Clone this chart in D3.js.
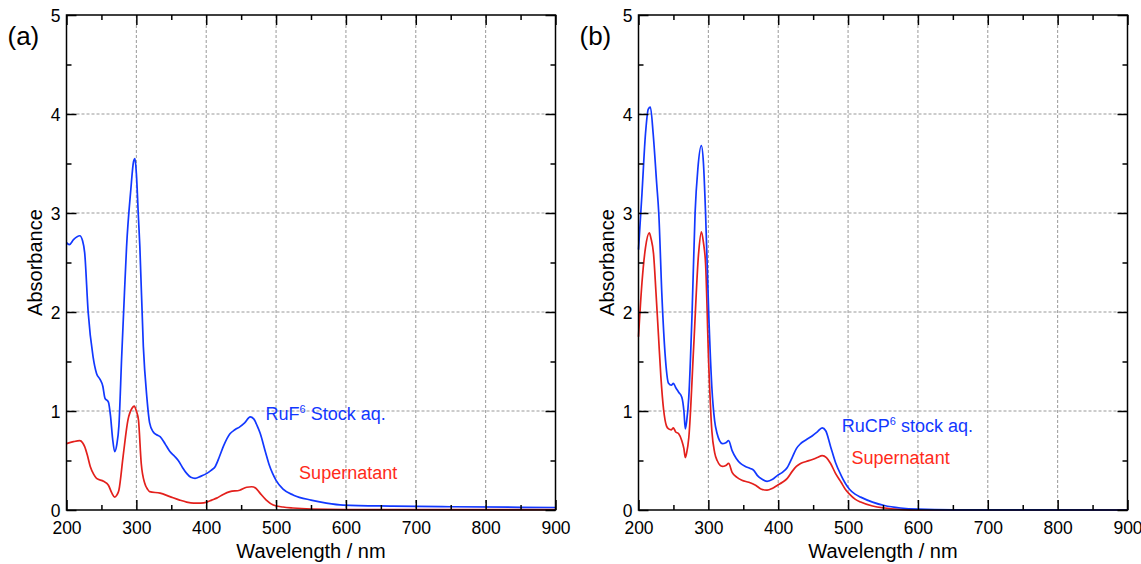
<!DOCTYPE html>
<html>
<head>
<meta charset="utf-8">
<script src="https://cdn.jsdelivr.net/npm/d3@7"></script>
<style>
  body { margin: 0; background: #fff; }
  svg, svg text { font-family: Arial, "Liberation Sans", sans-serif; }
  .grid line { stroke: #999; stroke-dasharray: 3,2; stroke-width: 1; }
  .axis .domain { display: none; }
  .axis line { stroke: #000; stroke-width: 1.5; }
  .axis text { font-size: 17.5px; fill: #000; }
</style>
</head>
<body>
<svg width="1141" height="564"></svg>
<script>
// wavelength (nm), absorbance
const stockA = [[200,2.70],[204,2.68],[210,2.73],[219,2.77],[223,2.72],[226,2.60],[231,2.0],[238,1.55],[243,1.38],[248,1.32],[252,1.25],[255,1.13],[260,1.09],[263,0.95],[266,0.72],[269,0.59],[272,0.66],[275,0.85],[279,1.55],[283,2.2],[286,2.66],[292,3.23],[296,3.52],[298,3.55],[300,3.4],[303,2.95],[305,2.66],[310,1.65],[315,1.14],[319,0.88],[324,0.79],[329,0.76],[334,0.74],[341,0.67],[348,0.59],[355,0.54],[360,0.50],[366,0.43],[372,0.37],[378,0.33],[384,0.32],[392,0.34],[401,0.37],[407,0.40],[413,0.44],[419,0.54],[425,0.65],[434,0.77],[441,0.81],[448,0.84],[455,0.88],[463,0.94],[468,0.92],[473,0.85],[477,0.78],[485,0.58],[490,0.46],[495,0.37],[500,0.30],[510,0.21],[525,0.15],[550,0.10],[572,0.07],[596,0.05],[667,0.04],[750,0.033],[900,0.025]];
const superA = [[200,0.67],[210,0.69],[219,0.70],[223,0.68],[226,0.64],[230,0.55],[234,0.44],[239,0.36],[243,0.32],[253,0.29],[260,0.25],[265,0.17],[269,0.13],[272,0.15],[275,0.20],[281,0.54],[288,0.91],[294,1.03],[297,1.05],[300,1.0],[303,0.91],[307,0.47],[312,0.27],[316,0.21],[319,0.185],[334,0.17],[348,0.135],[362,0.10],[372,0.08],[382,0.07],[392,0.07],[401,0.08],[408,0.10],[415,0.12],[425,0.16],[434,0.185],[448,0.20],[458,0.23],[465,0.235],[471,0.22],[477,0.17],[486,0.10],[496,0.05],[510,0.03],[524,0.02],[550,0.01],[600,0.005],[900,0.003]];
const stockB = [[200,2.63],[205,3.2],[210,3.8],[214,4.05],[217,4.07],[221,3.8],[226,3.3],[229,3.0],[233.6,2.15],[238,1.58],[243,1.28],[247,1.26],[250,1.28],[253,1.24],[257.5,1.19],[262,1.14],[265,1.0],[267,0.82],[269,0.9],[272,1.14],[276.7,1.99],[281,3.0],[285,3.45],[290,3.68],[293,3.5],[296,3.0],[300.5,1.99],[305,1.24],[309,0.9],[312.6,0.77],[316,0.70],[320,0.67],[325,0.68],[329,0.70],[334,0.60],[340,0.52],[346,0.47],[353,0.44],[360,0.42],[365,0.40],[370,0.35],[377,0.31],[384,0.29],[392,0.31],[399,0.35],[406,0.38],[413,0.43],[420,0.53],[426,0.62],[432,0.67],[440,0.71],[449,0.75],[456,0.79],[463,0.83],[468,0.80],[475,0.64],[482,0.48],[490,0.35],[496,0.27],[502,0.21],[510,0.16],[518,0.13],[535,0.08],[552,0.045],[575,0.02],[600,0.008],[650,0.002],[900,0]];
const superB = [[200,1.75],[205,2.3],[210,2.65],[215.4,2.80],[218,2.74],[221.5,2.59],[225,2.2],[228.7,1.75],[232,1.35],[236,1.01],[240,0.85],[243,0.82],[247,0.81],[250,0.83],[253,0.79],[257.5,0.77],[262,0.70],[265,0.62],[267,0.53],[269,0.58],[272,0.73],[279,1.65],[286,2.59],[290,2.81],[293,2.7],[296,2.49],[300.5,1.48],[305,0.80],[309,0.58],[312.6,0.50],[320,0.44],[325,0.45],[329,0.47],[334,0.38],[341,0.33],[348,0.30],[358,0.28],[367.6,0.25],[376,0.21],[384,0.20],[392,0.22],[399,0.25],[406,0.28],[413,0.32],[420,0.39],[426,0.44],[432,0.47],[440,0.49],[449,0.51],[456,0.53],[463,0.55],[469,0.53],[475,0.47],[482,0.37],[490,0.28],[496,0.21],[502,0.16],[510,0.11],[518,0.08],[535,0.04],[552,0.02],[575,0.007],[600,0.001],[900,0]];

const xMajor = [200,300,400,500,600,700,800,900];
const xMinor = [250,350,450,550,650,750,850];
const yMajor = [0,1,2,3,4,5];
const yMinor = [0.5,1.5,2.5,3.5,4.5];

const blue = '#1238ff';
const red = '#e3201c';

const svg = d3.select('svg');
const plotW = 489, plotH = 495;

function drawPanel(left, top, tag, series, labels) {
  const g = svg.append('g').attr('transform', `translate(${left},${top})`);
  const x = d3.scaleLinear().domain([200, 900]).range([0, plotW]);
  const y = d3.scaleLinear().domain([0, 5]).range([plotH, 0]);

  // dashed grid
  const grid = g.append('g').attr('class', 'grid');
  grid.selectAll('.gx').data(xMajor.slice(1, -1)).join('line')
    .attr('x1', d => x(d)).attr('x2', d => x(d)).attr('y1', 0).attr('y2', plotH);
  grid.selectAll('.gy').data(yMajor.slice(1, -1)).join('line')
    .attr('y1', d => y(d)).attr('y2', d => y(d)).attr('x1', 0).attr('x2', plotW);

  const line = d3.line().x(d => x(d[0])).y(d => y(d[1])).curve(d3.curveMonotoneX);
  series.forEach(s => {
    g.append('path').attr('d', line(s.data))
      .attr('fill', 'none').attr('stroke', s.color).attr('stroke-width', 1.7);
  });

  // axes, ticks inward
  g.append('g').attr('class', 'axis').attr('transform', `translate(0,${plotH})`)
    .call(d3.axisBottom(x).tickValues(xMajor).tickSize(-10).tickPadding(12).tickFormat(d3.format('d')));
  g.append('g').attr('class', 'axis').attr('transform', `translate(0,${plotH})`)
    .call(d3.axisBottom(x).tickValues(xMinor).tickSize(-5).tickFormat(''));
  g.append('g').attr('class', 'axis')
    .call(d3.axisTop(x).tickValues(xMajor).tickSize(-10).tickFormat(''));
  g.append('g').attr('class', 'axis')
    .call(d3.axisTop(x).tickValues(xMinor).tickSize(-5).tickFormat(''));
  const yl = g.append('g').attr('class', 'axis')
    .call(d3.axisLeft(y).tickValues(yMajor).tickSize(-10).tickPadding(6).tickFormat(d3.format('d')));
  yl.selectAll('text').attr('dy', '0.36em');
  g.append('g').attr('class', 'axis')
    .call(d3.axisLeft(y).tickValues(yMinor).tickSize(-5).tickFormat(''));
  g.append('g').attr('class', 'axis').attr('transform', `translate(${plotW},0)`)
    .call(d3.axisRight(y).tickValues(yMajor).tickSize(-10).tickFormat(''));
  g.append('g').attr('class', 'axis').attr('transform', `translate(${plotW},0)`)
    .call(d3.axisRight(y).tickValues(yMinor).tickSize(-5).tickFormat(''));

  g.append('rect').attr('width', plotW).attr('height', plotH)
    .attr('fill', 'none').attr('stroke', '#000').attr('stroke-width', 1.5);

  g.append('text').attr('x', plotW / 2).attr('y', plotH + 48)
    .attr('text-anchor', 'middle').attr('font-size', 20).text('Wavelength / nm');
  g.append('text').attr('transform', `translate(${-25},${plotH / 2}) rotate(-90)`)
    .attr('text-anchor', 'middle').attr('font-size', 20).text('Absorbance');
  g.append('text').attr('x', -59).attr('y', 30)
    .attr('font-size', 26).text(tag);

  labels.forEach(l => {
    const t = g.append('text').attr('x', x(l.nm)).attr('y', y(l.abs))
      .attr('fill', l.color).attr('font-size', 18);
    t.append('tspan').text(l.text[0]);
    if (l.text.length > 1) {
      t.append('tspan').attr('font-size', 11).attr('dy', -7).text(l.text[1]);
      t.append('tspan').attr('dy', 7).text(l.text[2]);
    }
  });
}

drawPanel(66.5, 15, '(a)',
  [{data: superA, color: red}, {data: stockA, color: blue}],
  [{nm: 485, abs: 0.91, color: blue, text: ['RuF', '6', ' Stock aq.']},
   {nm: 533, abs: 0.31, color: '#ff2a1a', text: ['Supernatant']}]);

drawPanel(638.5, 15, '(b)',
  [{data: superB, color: red}, {data: stockB, color: blue}],
  [{nm: 491, abs: 0.785, color: blue, text: ['RuCP', '6', ' stock aq.']},
   {nm: 505, abs: 0.465, color: '#ff2a1a', text: ['Supernatant']}]);
</script>
</body>
</html>
